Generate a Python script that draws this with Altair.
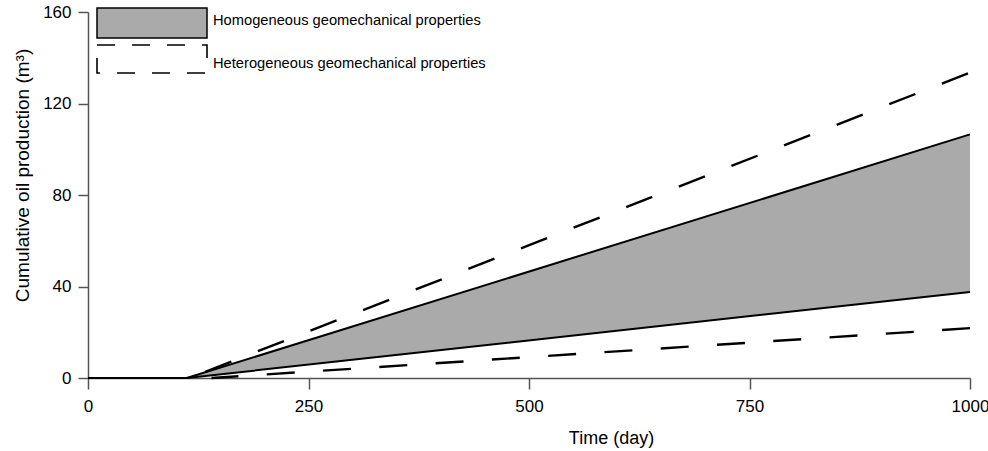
import altair as alt
import pandas as pd

# Cumulative oil production envelopes (m^3) versus time (day)
days = [0, 112, 1000]
homog_upper = [0, 0, 106.5]
homog_lower = [0, 0, 37.6]

hetero_upper_days = [115, 1000]
hetero_upper = [0, 133.5]
hetero_lower_days = [140, 1000]
hetero_lower = [0, 21.8]

x_ticks = [0, 250, 500, 750, 1000]
y_ticks = [0, 40, 80, 120, 160]

legend_labels = [
    "Homogeneous geomechanical properties",
    "Heterogeneous geomechanical properties",
]

FONT = "Liberation Sans"
STIPPLE = "#aaaaaa"
AXIS_GREY = "#555555"

band = pd.DataFrame({"day": days, "upper": homog_upper, "lower": homog_lower})
solid = band.melt(id_vars="day", value_vars=["upper", "lower"],
                  var_name="series", value_name="value")
dash_up = pd.DataFrame({"day": hetero_upper_days, "value": hetero_upper})
dash_lo = pd.DataFrame({"day": hetero_lower_days, "value": hetero_lower})
one = pd.DataFrame({"k": [0]})

x_scale = alt.Scale(domain=[0, 1000], nice=False, zero=False)
y_scale = alt.Scale(domain=[0, 160], nice=False)

x_axis = alt.Axis(
    values=x_ticks, format="d", title="Time (day)", grid=False,
    domainColor=AXIS_GREY, domainWidth=1.5, tickColor=AXIS_GREY, tickWidth=1.5,
    tickSize=11, labelPadding=9, labelFontSize=17, labelFont=FONT,
    labelColor="black", titleFont=FONT, titleFontSize=18, titleFontWeight="normal",
    titleColor="black", titleX=523, titleY=60, titleAlign="center",
    titleBaseline="middle", labelFlush=False, labelOverlap=False,
)
y_axis = alt.Axis(
    values=y_ticks, format="d", title="Cumulative oil production (m³)", grid=False,
    domainColor=AXIS_GREY, domainWidth=1.5, tickColor=AXIS_GREY, tickWidth=1.5,
    tickSize=10, labelPadding=7, labelFontSize=17, labelFont=FONT,
    labelColor="black", titleFont=FONT, titleFontSize=19, titleFontWeight="normal",
    titleColor="black", titleX=-66, titleY=163, titleAngle=270, titleAlign="center",
    titleBaseline="middle", labelFlush=False, labelOverlap=False,
)


def x_enc():
    return alt.X("day:Q", scale=x_scale, axis=x_axis)


def y_enc(field):
    return alt.Y(f"{field}:Q", scale=y_scale, axis=y_axis)


area = alt.Chart(band).mark_area(color=STIPPLE, opacity=1).encode(
    x=x_enc(), y=y_enc("upper"), y2="lower:Q",
)

solid_lines = alt.Chart(solid).mark_line(color="black", strokeWidth=2).encode(
    x=x_enc(), y=y_enc("value"), detail="series:N",
)

upper_dashed = alt.Chart(dash_up).mark_line(
    color="black", strokeWidth=2.4, strokeDash=[28, 28.5], strokeDashOffset=39.5
).encode(x=x_enc(), y=y_enc("value"))

lower_dashed = alt.Chart(dash_lo).mark_line(
    color="black", strokeWidth=2.4, strokeDash=[28, 28.4], strokeDashOffset=1
).encode(x=x_enc(), y=y_enc("value"))

# Legend: stippled swatch, dashed box and their labels
key_band = alt.Chart(one).mark_rect(fill=STIPPLE, stroke="black", strokeWidth=1.5).encode(
    x=alt.value(9), x2=alt.value(119), y=alt.value(-4), y2=alt.value(26)
)
key_dash = alt.Chart(one).mark_rect(
    fillOpacity=0, stroke="black", strokeWidth=1.6, strokeDash=[18, 17]
).encode(
    x=alt.value(9), x2=alt.value(119), y=alt.value(33), y2=alt.value(61)
)
key_text1 = alt.Chart(one).mark_text(
    align="left", baseline="middle", font=FONT, fontSize=14.7, color="black"
).encode(x=alt.value(125), y=alt.value(9), text=alt.value(legend_labels[0]))
key_text2 = alt.Chart(one).mark_text(
    align="left", baseline="middle", font=FONT, fontSize=14.7, color="black"
).encode(x=alt.value(125), y=alt.value(52), text=alt.value(legend_labels[1]))

chart = alt.layer(
    area, solid_lines, upper_dashed, lower_dashed,
    key_band, key_dash, key_text1, key_text2,
).properties(
    width=882, height=366,
    autosize=alt.AutoSizeParams(type="none"),
    padding={"left": 88, "top": 12, "right": 18, "bottom": 73},
    background="white",
).configure_view(stroke=None)

chart.save("out.html", embed_options={"renderer": "svg", "actions": False})
